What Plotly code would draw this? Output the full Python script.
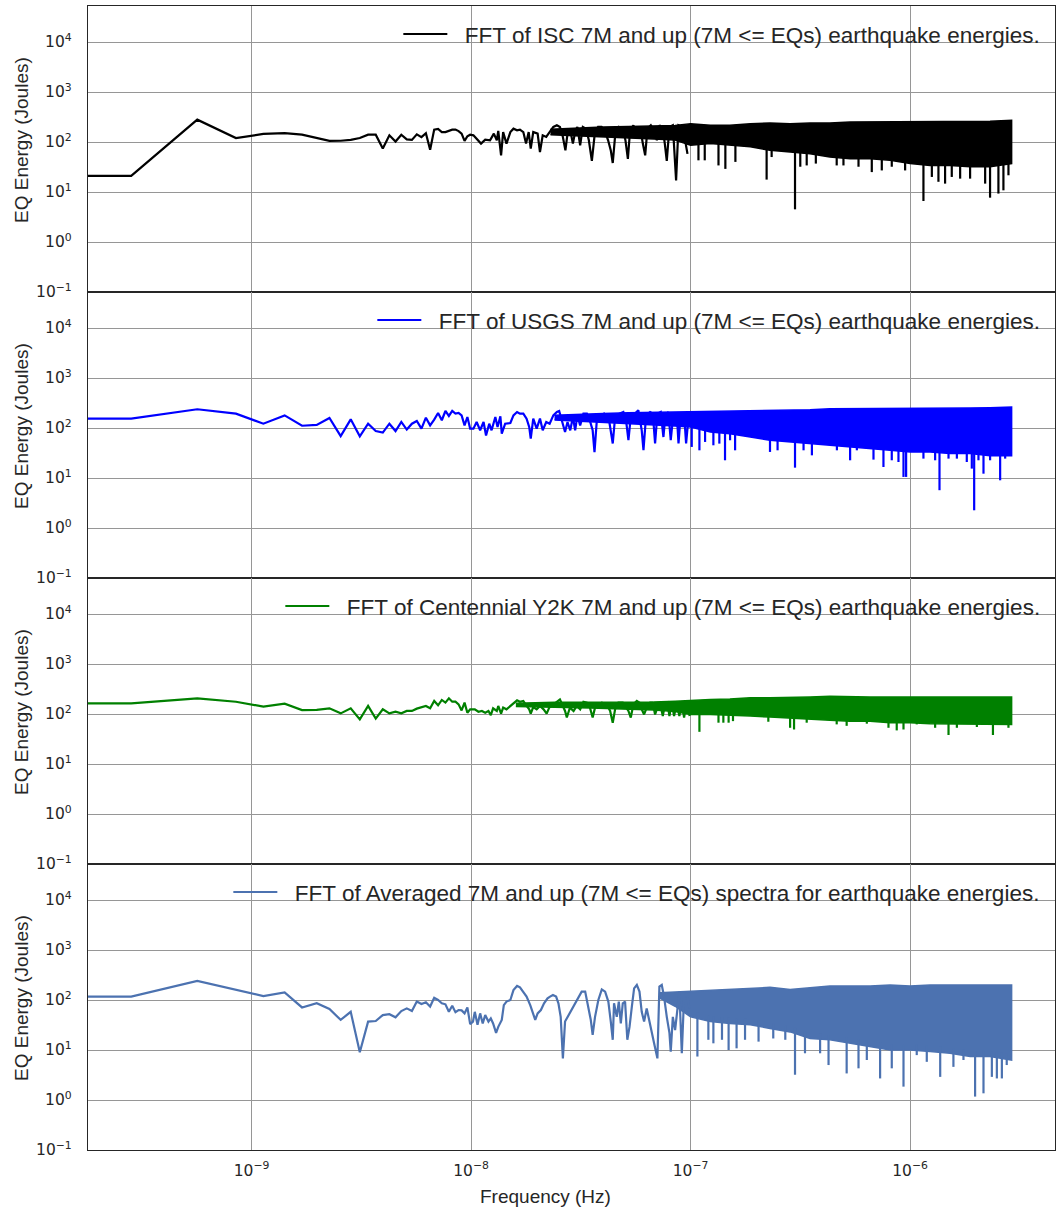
import numpy as np
import plotly.graph_objects as go
from plotly.subplots import make_subplots

# Spectral resolution of the four spectra: bin k sits at k * DF_HZ.
DF_HZ = 2.83e-10
NHZ = 1e-9

X_RANGE = [-9.745, -5.34]   # log10(Hz)
Y_RANGE = [-1.0, 4.72]      # log10(J)

# ---- bins 1..35 (well separated on the log axis) -------------------------
ISC_LOW = [21, 280, 120, 145, 150, 140, 118, 105, 106, 110,
           120, 140, 140, 74, 136, 102, 140, 113, 110, 142,
           125, 150, 70, 177, 182, 158, 158, 165, 177, 177,
           165, 147, 105, 130, 140]
USGS_LOW = [154, 237, 194, 122, 179, 111, 115, 159, 69, 149,
            68, 122, 87, 81, 122, 87, 132, 93, 122, 138,
            97, 161, 113, 147, 200, 143, 219, 174, 219, 194,
            200, 179, 113, 166, 97]
Y2K_LOW = [163, 206, 176, 140, 161, 120, 121, 130, 103, 130,
           78, 145, 81, 124, 103, 111, 103, 115, 115, 128,
           134, 145, 130, 182, 149, 191, 169, 206, 176, 176,
           156, 118, 169, 106, 124]
AVG_LOW = [117, 240, 158, 120, 142, 71, 86, 66, 40, 58,
           9.0, 37, 38, 50, 52, 45, 60, 68, 60, 93,
           83, 90, 74, 111, 100, 86, 82, 58, 77, 57,
           63, 62, 54, 71, 33]

# ---- 10 nHz .. 100 nHz: frequency (nHz) and energy ------------------------
ISC_MID_F = [10.25, 10.6, 11.1, 11.6, 12.2, 12.7, 13.1, 13.3, 13.7, 14.0,
             14.5, 15.1, 15.6, 16.2, 16.7, 17.3, 17.8, 18.3, 18.7, 19.2,
             20.1, 20.6, 21.2, 22.0, 22.9, 23.7, 24.6, 25.4, 26.2, 26.9,
             27.5, 28.3, 29.1, 29.9, 30.5, 31.4, 32.3, 33.4, 34.4, 35.5,
             36.6, 37.9, 39.3, 40.6, 42.1, 43.3, 44.2, 45.4, 47.1, 49.1,
             50.5, 51.8, 53.0, 54.9, 56.9, 58.9, 60.6, 62.1, 63.6, 65.9,
             68.2, 70.2, 72.2, 74.7, 76.3, 77.9, 80.1, 83.0, 85.9, 88.1,
             91.2, 94.4, 96.8]
ISC_MID_V = [136, 117, 93, 111, 108, 147, 108, 166, 54, 158,
             93, 158, 185, 171, 176, 158, 93, 158, 74, 158,
             147, 63, 136, 126, 158, 200, 216, 200, 126, 68,
             147, 171, 93, 171, 200, 86, 200, 185, 108, 42,
             147, 200, 200, 171, 108, 68, 38, 147, 200, 185,
             108, 46, 171, 216, 126, 200, 93, 54, 185, 216,
             171, 108, 216, 185, 93, 42, 200, 216, 17, 216,
             200, 108, 58]

USGS_MID_F = [10.25, 10.6, 11.0, 11.4, 11.7, 12.1, 12.4, 12.9, 13.2, 13.6,
              13.8, 14.3, 15.1, 15.6, 16.2, 16.7, 17.3, 17.9, 18.4, 18.7,
              19.2, 19.9, 20.6, 21.2, 22.0, 22.8, 23.7, 24.6, 25.2, 25.9,
              26.8, 27.5, 28.3, 29.1, 29.8, 30.5, 31.4, 32.5, 33.7, 34.9,
              35.8, 36.5, 37.4, 38.7, 40.4, 42.3, 43.3, 44.2, 45.3, 47.4,
              49.4, 50.8, 52.1, 53.4, 55.8, 57.8, 59.9, 61.0, 62.7, 65.4,
              67.3, 68.9, 70.6, 73.1, 75.2, 76.8, 79.2, 81.2, 83.5, 86.5,
              88.1, 90.2, 93.4, 95.4, 98.2]
USGS_MID_V = [97, 132, 90, 132, 71, 122, 90, 166, 105, 171,
              77, 122, 126, 179, 209, 194, 194, 154, 105, 61,
              154, 97, 154, 90, 132, 122, 179, 209, 219, 143,
              83, 132, 90, 166, 90, 179, 113, 194, 194, 132,
              90, 33, 143, 179, 194, 166, 90, 49, 166, 194,
              209, 143, 57, 166, 194, 226, 90, 36, 179, 209,
              194, 49, 194, 209, 66, 179, 209, 57, 194, 194,
              49, 194, 194, 49, 194]

Y2K_MID_F = [10.4, 10.8, 11.2, 11.6, 12.0, 12.3, 12.6, 13.1, 13.3, 13.7,
             14.0, 14.5, 15.1, 15.6, 16.2, 16.7, 17.3, 17.9, 18.4, 18.7,
             19.2, 19.9, 20.6, 21.4, 22.1, 22.7, 23.7, 24.7, 25.4, 26.2,
             26.8, 27.3, 28.2, 29.3, 30.3, 31.4, 32.5, 33.7, 34.8, 35.8,
             36.7, 38.0, 39.4, 41.5, 43.0, 44.2, 45.3, 46.9, 49.1, 50.3,
             52.1, 53.4, 54.9, 56.9, 58.5, 59.9, 61.4, 63.1, 65.4, 67.2,
             68.9, 70.6, 72.6, 74.7, 76.5, 78.4, 80.1, 82.1, 84.1, 86.5,
             88.9, 91.2, 93.4, 96.1, 99.0]
Y2K_MID_V = [124, 111, 115, 106, 115, 95, 130, 115, 145, 102,
             134, 124, 145, 169, 188, 176, 182, 145, 124, 102,
             138, 124, 145, 124, 102, 134, 156, 182, 196, 145,
             115, 85, 134, 115, 145, 124, 176, 169, 134, 85,
             134, 156, 169, 156, 115, 67, 124, 169, 169, 145,
             115, 85, 156, 182, 169, 124, 98, 134, 169, 169,
             98, 134, 169, 91, 156, 169, 91, 169, 91, 169,
             91, 169, 85, 182, 91]

AVG_MID_F = [10.2, 10.4, 10.7, 11.0, 11.3, 11.6, 12.0, 12.3, 12.6, 13.0,
             13.3, 13.8, 14.1, 14.5, 15.1, 15.6, 16.2, 16.7, 17.3, 17.9,
             18.6, 19.1, 19.6, 20.1, 20.8, 21.5, 22.3, 22.9, 23.6, 24.4,
             25.0, 25.6, 26.2, 26.8, 27.8, 28.7, 29.8, 30.8, 31.9, 33.1,
             34.2, 35.1, 35.8, 36.7, 38.0, 39.4, 40.8, 42.2, 43.3, 44.2,
             44.8, 46.1, 47.1, 48.1, 49.1, 50.3, 51.5, 52.7, 54.0, 55.3,
             56.9, 58.5, 59.9, 61.4, 63.1, 64.9, 66.5, 68.2, 70.6, 72.1,
             73.9, 75.7, 77.9, 80.1, 81.2, 83.0, 85.0, 87.1, 88.9, 91.2,
             93.4, 96.1, 98.8]
AVG_MID_V = [37, 58, 32, 54, 34, 50, 37, 43, 34, 22,
             29, 40, 79, 93, 100, 158, 191, 179, 147, 117,
             79, 54, 40, 54, 63, 86, 108, 117, 126, 117,
             86, 46, 6.8, 37, 50, 63, 86, 117, 147, 147,
             74, 40, 20, 46, 100, 163, 147, 93, 37, 16,
             86, 46, 93, 34, 86, 93, 16, 29, 74, 171,
             200, 147, 58, 37, 68, 40, 25, 13.6, 6.8, 185,
             200, 117, 46, 22, 9.3, 46, 25, 68, 147, 8.6,
             117, 136, 68]

# ---- where the bins crowd together they form a solid band (nHz, J) ---------
ISC_BAND_F = [23, 30, 40, 52, 68, 85, 100, 123, 151, 187, 230, 284, 350, 431,
              533, 657, 811, 1000, 1233, 1521, 1876, 2313, 2900]
ISC_TOP = [180, 190, 200, 205, 210, 214, 233, 216, 216, 233, 240, 233, 240, 240,
           251, 251, 251, 259, 259, 259, 259, 259, 272]
ISC_BOT = [140, 135, 128, 120, 115, 110, 86, 93, 86, 80, 68, 63, 58, 50,
           46, 46, 43, 37, 34, 34, 32, 32, 37]

USGS_BAND_F = [24, 30, 40, 52, 68, 85, 100, 123, 151, 187, 230, 284, 350, 431,
               533, 657, 811, 1000, 1233, 1521, 1876, 2313, 2900]
USGS_TOP = [180, 188, 196, 202, 206, 209, 209, 219, 219, 219, 226, 233, 233, 244,
            244, 244, 244, 244, 244, 252, 252, 255, 264]
USGS_BOT = [145, 138, 130, 124, 116, 110, 105, 83, 77, 66, 57, 53, 49, 45,
            42, 39, 36, 33, 33, 31, 31, 28, 28]

Y2K_BAND_F = [16, 24, 35, 50, 68, 85, 100, 123, 151, 187, 230, 284, 350, 431,
              533, 657, 811, 1000, 1233, 1521, 1876, 2313, 2900]
Y2K_TOP = [165, 172, 172, 172, 174, 180, 188, 194, 200, 212, 212, 212, 219, 226,
           219, 219, 219, 219, 219, 219, 219, 219, 219]
Y2K_BOT = [142, 136, 132, 127, 120, 112, 98, 98, 95, 91, 87, 82, 78, 75,
           72, 72, 67, 67, 64, 64, 62, 62, 62]

AVG_BAND_F = [72, 85, 100, 123, 151, 187, 230, 284, 350, 431, 533, 657,
              811, 1000, 1233, 1521, 1876, 2313, 2900]
AVG_TOP = [140, 145, 150, 158, 163, 171, 179, 163, 179, 191, 191, 191,
           200, 191, 200, 200, 200, 200, 200]
AVG_BOT = [110, 75, 46, 37, 34, 32, 27, 23, 17, 16, 13.6, 11.7,
           10, 10, 9.3, 8.6, 7.4, 7.4, 6.3]

# Deep single-bin minima reaching below the band (nHz, J)
ISC_DIP_F = [108.6, 116, 134, 144, 160, 222, 234, 299, 316, 338,
             372, 463, 497, 582, 669, 743, 825, 949, 1150, 1256,
             1346, 1443, 1548, 1690, 1876, 2197, 2313, 2525, 2661, 2805]
ISC_DIP_V = [43, 43, 34, 29, 40, 17.7, 50, 4.5, 32, 34,
             37, 34, 34, 32, 25, 27, 32, 27, 6.6, 20,
             16, 14.7, 20, 18.5, 18.5, 14.7, 7.7, 9.3, 10.8, 21.6]
USGS_DIP_F = [101.2, 109.7, 116.4, 127, 135.2, 143.5, 151.3, 159.5, 230, 249,
              299, 327, 357, 464, 533, 572, 681, 756, 825, 885,
              933, 959, 1150, 1300, 1361, 1496, 1633, 1812, 1910, 1958,
              2048, 2159, 2314, 2571, 2710]
USGS_DIP_V = [41.8, 35.8, 52.6, 45.1, 48.7, 22.6, 56.8, 35.8, 33.2, 35.8,
              16.1, 35.8, 28.4, 35.8, 22.6, 35.8, 23.3, 16.6, 22.6, 20.9,
              10.5, 10.5, 24.4, 22.6, 5.7, 24.4, 24.4, 20.9, 15.4, 2.26,
              22.6, 12.2, 22.6, 9.0, 24.4]
Y2K_DIP_F = [109.7, 134, 141, 149, 156, 226, 284, 296, 338, 463,
             514, 635, 797, 869, 933, 1072, 1300, 1496, 1633, 2014,
             2384, 2805]
Y2K_DIP_V = [44, 67, 67, 67, 72, 70, 53, 49, 67, 62,
             58, 64, 53, 47, 49, 62, 53, 38, 53, 55,
             38, 53]
AVG_DIP_F = [107.4, 120.5, 127, 139, 149, 162, 177, 204, 238, 270,
             299, 332, 389, 425, 514, 582, 635, 730, 825, 933,
             1072, 1191, 1371, 1575, 1750, 1977, 2159, 2357, 2484, 2618,
             2755]
AVG_DIP_V = [7.4, 16, 13.6, 16, 10, 10.8, 16, 14.7, 17, 16,
             3.2, 8.6, 8.6, 5.0, 3.4, 4.3, 6.3, 2.7, 4.3, 1.85,
             7.9, 5.8, 2.9, 4.6, 6.3, 1.17, 1.36, 2.9, 2.7, 2.7,
             5.0]

SERIES = [
    dict(name="FFT of ISC 7M and up (7M <= EQs) earthquake energies.",
         color="#000000", low=ISC_LOW, mid_f=ISC_MID_F, mid_v=ISC_MID_V,
         band_f=ISC_BAND_F, top=ISC_TOP, bot=ISC_BOT,
         dip_f=ISC_DIP_F, dip_v=ISC_DIP_V),
    dict(name="FFT of USGS 7M and up (7M <= EQs) earthquake energies.",
         color="#0000ff", low=USGS_LOW, mid_f=USGS_MID_F, mid_v=USGS_MID_V,
         band_f=USGS_BAND_F, top=USGS_TOP, bot=USGS_BOT,
         dip_f=USGS_DIP_F, dip_v=USGS_DIP_V),
    dict(name="FFT of Centennial Y2K 7M and up (7M <= EQs) earthquake energies.",
         color="#008000", low=Y2K_LOW, mid_f=Y2K_MID_F, mid_v=Y2K_MID_V,
         band_f=Y2K_BAND_F, top=Y2K_TOP, bot=Y2K_BOT,
         dip_f=Y2K_DIP_F, dip_v=Y2K_DIP_V),
    dict(name="FFT of Averaged 7M and up (7M <= EQs) spectra for earthquake energies.",
         color="#4c72b0", low=AVG_LOW, mid_f=AVG_MID_F, mid_v=AVG_MID_V,
         band_f=AVG_BAND_F, top=AVG_TOP, bot=AVG_BOT,
         dip_f=AVG_DIP_F, dip_v=AVG_DIP_V),
]

FONT = "Liberation Sans, Arial, sans-serif"
TICK_FONT = "DejaVu Sans, sans-serif"
INK = "#262626"
GRID = "#969696"
LW = 2.2

Y_TICKS = [0.1, 1, 10, 100, 1e3, 1e4]
Y_TEXT = ["10<sup>\u22121</sup>", "10<sup>0</sup>", "10<sup>1</sup>",
          "10<sup>2</sup>", "10<sup>3</sup>", "10<sup>4</sup>"]
X_TICKS = [1e-9, 1e-8, 1e-7, 1e-6]
X_TEXT = ["10<sup>\u22129</sup>", "10<sup>\u22128</sup>",
          "10<sup>\u22127</sup>", "10<sup>\u22126</sup>"]

W, H = 1059, 1218
M_L, M_R, M_T, M_B = 88, 4, 6, 68
PLOT_W, PLOT_H = W - M_L - M_R, H - M_T - M_B

fig = make_subplots(rows=4, cols=1, shared_xaxes=True, vertical_spacing=0)

annotations = []
for i, s in enumerate(SERIES):
    row = i + 1
    legend_id = "legend" if i == 0 else f"legend{i + 1}"
    color = s["color"]

    # dense part as a filled band (drawn first, lines go over it)
    bf = np.array(s["band_f"]) * NHZ
    fig.add_trace(go.Scatter(
        x=np.concatenate([bf, bf[::-1]]),
        y=np.concatenate([s["top"], s["bot"][::-1]]),
        mode="lines", fill="toself", fillcolor=color,
        line=dict(color=color, width=1.5), showlegend=False,
        hoverinfo="skip"), row=row, col=1)

    # the zero-frequency bin lies off the log axis; its segment runs flat
    # at the first bin's level out to the left edge
    k = np.arange(1, len(s["low"]) + 1)
    x_line = np.concatenate([[10 ** (X_RANGE[0] - 0.05)], k * DF_HZ,
                             np.array(s["mid_f"]) * NHZ])
    y_line = np.concatenate([[s["low"][0]], s["low"], s["mid_v"]])
    fig.add_trace(go.Scatter(x=x_line, y=y_line, mode="lines",
                             name="\u00a0\u00a0" + s["name"],
                             line=dict(color=color, width=LW),
                             legend=legend_id), row=row, col=1)

    # individual deep minima hanging below the band
    dip_x = np.array(s["dip_f"]) * NHZ
    base = 10 ** np.interp(np.log10(dip_x), np.log10(bf), np.log10(s["bot"]))
    xs, ys = [], []
    for fx, b, v in zip(dip_x, base, s["dip_v"]):
        xs += [fx, fx, None]
        ys += [b * 1.3, v, None]
    fig.add_trace(go.Scatter(x=xs, y=ys, mode="lines",
                             line=dict(color=color, width=LW),
                             showlegend=False, hoverinfo="skip"),
                  row=row, col=1)

    top = 1 - i * 0.25
    fig.update_layout({legend_id: dict(
        x=0.99, xanchor="right", y=top - 0.006, yanchor="top",
        bgcolor="rgba(0,0,0,0)", borderwidth=0, itemwidth=44,
        font=dict(family=FONT, size=22.5, color=INK))})

    # y label of each panel, slightly above the panel centre
    annotations.append(dict(
        text="EQ Energy (Joules)", textangle=-90,
        xref="paper", yref="paper",
        x=(22 - M_L) / PLOT_W, y=top - 0.125 + 9 / PLOT_H,
        xanchor="center", yanchor="middle", showarrow=False,
        font=dict(family=FONT, size=19, color=INK)))

    fig.update_yaxes(type="log", range=Y_RANGE, tickvals=Y_TICKS, ticktext=Y_TEXT,
                     showgrid=True, gridcolor=GRID, gridwidth=1,
                     showline=True, linecolor=INK, linewidth=1.3, mirror=True,
                     ticks="", ticklabelstandoff=12, zeroline=False,
                     tickfont=dict(family=TICK_FONT, size=15.5, color=INK),
                     row=row, col=1)
    fig.update_xaxes(type="log", range=X_RANGE, tickvals=X_TICKS, ticktext=X_TEXT,
                     showgrid=True, gridcolor=GRID, gridwidth=1,
                     showline=True, linecolor=INK, linewidth=1.3, mirror=True,
                     ticks="", ticklabelstandoff=6, zeroline=False,
                     tickfont=dict(family=TICK_FONT, size=15.5, color=INK),
                     row=row, col=1)

annotations.append(dict(
    text="Frequency (Hz)", xref="paper", yref="paper",
    x=(545 - M_L) / PLOT_W, y=-46 / PLOT_H,
    xanchor="center", yanchor="middle", showarrow=False,
    font=dict(family=FONT, size=19, color=INK)))

fig.update_layout(
    width=W, height=H,
    margin=dict(l=M_L, r=M_R, t=M_T, b=M_B),
    paper_bgcolor="white", plot_bgcolor="white",
    showlegend=True, annotations=annotations,
)

fig.write_html("out.html")
